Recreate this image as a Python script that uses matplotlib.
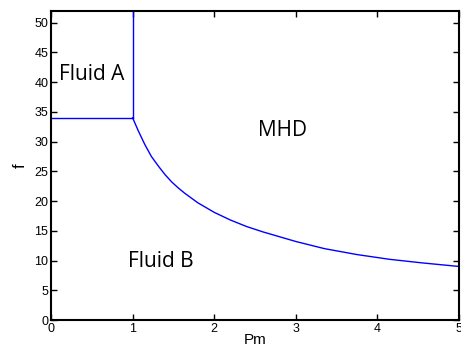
import numpy as np
import matplotlib
matplotlib.use('Agg')
import matplotlib.pyplot as plt

# boundary values
pm_edge = [0.0, 1.0]
f_edge = [34.0, 34.0]
pm_wall = [1.0, 1.0]
f_wall = [34.0, 52.0]
pm_curve = [1.0, 1.07, 1.15, 1.23, 1.32, 1.40, 1.48, 1.56, 1.64, 1.72, 1.8, 1.9,
            2.0, 2.2, 2.4, 2.6, 2.8, 3.0, 3.35, 3.75, 4.15, 4.55, 5.0]
f_curve = [34.0, 31.8, 29.5, 27.5, 25.8, 24.4, 23.2, 22.2, 21.3, 20.5, 19.7, 18.9,
           18.1, 16.8, 15.7, 14.8, 14.0, 13.2, 12.0, 11.0, 10.2, 9.6, 9.0]

regions = ['Fluid A', 'MHD', 'Fluid B']
region_pm = [0.10, 2.54, 0.94]
region_f = [40.3, 30.9, 8.95]

plt.rcParams['font.family'] = ['Liberation Sans', 'DejaVu Sans']

fig = plt.figure(figsize=(4.61, 3.52), dpi=100)
ax = fig.add_axes([0.1106, 0.0909, 0.8851, 0.8787])

ax.plot(pm_edge, f_edge, color='#0000ff', lw=1.0)
ax.plot(pm_wall, f_wall, color='#0000ff', lw=1.0)
ax.plot(pm_curve, f_curve, color='#0000ff', lw=1.0)

for name, x, y in zip(regions, region_pm, region_f):
  ax.text(x, y, name, fontsize=15, family=['Open Sans', 'DejaVu Sans'],
          ha='left', va='baseline')

ax.set_xlim(0, 5)
ax.set_ylim(0, 52)
ax.set_xticks(range(0, 6))
ax.set_yticks(range(0, 51, 5))
ax.tick_params(direction='in', top=True, right=True, length=4, width=1.0,
               labelsize=9, pad=2)
for s in ax.spines.values():
  s.set_linewidth(1.5)

ax.set_xlabel('Pm', fontsize=11, labelpad=-1)
ax.set_ylabel('f', fontsize=12, labelpad=5)

fig.savefig('out.png', dpi=100)
